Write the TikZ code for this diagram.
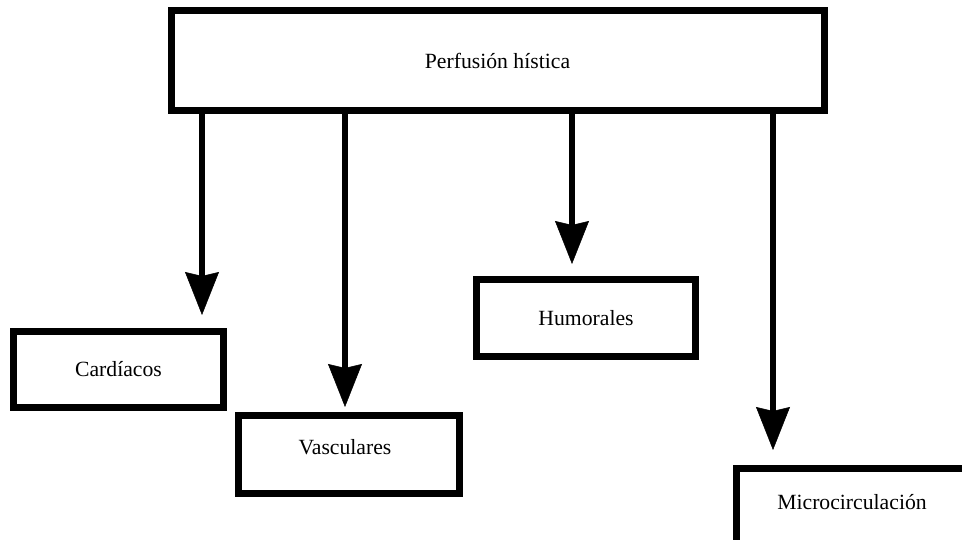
\documentclass[tikz,border=0pt]{standalone}
\usepackage{fontspec}
\setmainfont{Liberation Serif}
\usetikzlibrary{arrows.meta}
\begin{document}
\begin{tikzpicture}[x=1pt,y=-1pt,
  boxstyle/.style={draw=black, line width=7pt, fill=white, inner sep=0pt,
    font=\fontsize{21.7}{24}\selectfont},
  txt/.style={inner sep=0pt, font=\fontsize{21.7}{24}\selectfont},
  arr/.style={line width=6.5pt,
    -{Stealth[length=43pt,width=34pt,inset=4pt,line width=0.5pt]}}]
\useasboundingbox (0,0) rectangle (962,540);
\fill[white] (0,0) rectangle (962,540);
\clip (0,0) rectangle (962,540);
% tips of arrows
\coordinate (t1) at (202,315);
\coordinate (t2) at (345,407);
\coordinate (t3) at (572,264);
\coordinate (t4) at (773,450);
% boxes
\node[boxstyle, minimum width=653pt, minimum height=100pt] (top) at (497.5,61) {Perfusión hística};
\node[boxstyle, minimum width=210pt, minimum height=76pt] (card) at (118.5,369.5) {Cardíacos};
\node[boxstyle, minimum width=221pt, minimum height=78pt] (vasc) at (349,454.5) {};
\node[txt] (vasctext) at (345,447) {Vasculares};
\node[boxstyle, minimum width=219pt, minimum height=77pt] (hum) at (586,318) {Humorales};
\node[boxstyle, minimum width=300pt, minimum height=120pt, anchor=north west] (microbox) at (732.5,464.5) {};
\node[txt] (micro) at (852,502) {Microcirculación};
% arrows
\draw[arr] (top.south -| t1) -- (t1);
\draw[arr] (top.south -| t2) -- (t2);
\draw[arr] (top.south -| t3) -- (t3);
\draw[arr] (top.south -| t4) -- (t4);
\end{tikzpicture}
\end{document}
